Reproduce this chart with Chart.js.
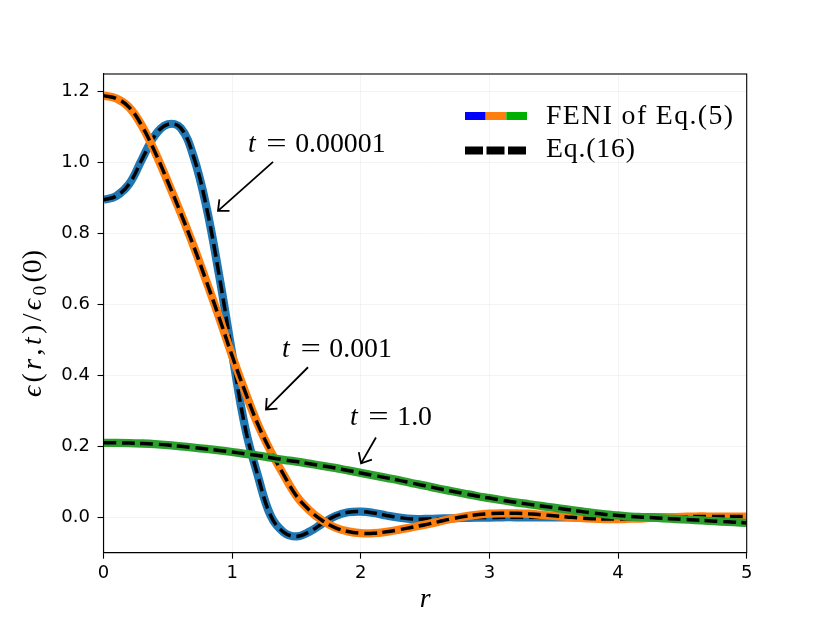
<!DOCTYPE html>
<html><head><meta charset="utf-8">
<script src="https://cdn.jsdelivr.net/npm/chart.js@4/dist/chart.umd.min.js"></script>
<style>html,body{margin:0;padding:0;background:#fff}canvas{display:block}</style>
</head><body>
<canvas id="c" width="830" height="622"></canvas>
<script>
// ---- data ----
const rValues = [0.0,0.1,0.2,0.3,0.4,0.5,0.6,0.7,0.8,0.9,1.0,1.1,1.2,1.3,1.4,1.5,1.6,1.7,1.8,1.9,2.0,2.1,2.2,2.3,2.4,2.5,2.6,2.7,2.8,2.9,3.0,3.1,3.2,3.3,3.4,3.5,3.6,3.7,3.8,3.9,4.0,4.1,4.2,4.3,4.4,4.5,4.6,4.7,4.8,4.9,5.0];
const epsT00001 = [0.895,0.906,0.940,1.010,1.077,1.108,1.098,1.017,0.875,0.680,0.462,0.255,0.117,0.004,-0.042,-0.054,-0.041,-0.018,0.003,0.014,0.016,0.012,0.005,-0.001,-0.005,-0.005,-0.004,-0.003,-0.002,-0.001,-0.001,0.000,0.000,0.000,0.000,0.000,0.000,0.000,0.000,0.000,0.000,0.000,0.000,0.000,0.000,0.000,0.000,0.000,0.000,0.000,0.000];
const epsT0001 = [1.189,1.181,1.156,1.103,1.030,0.946,0.858,0.765,0.665,0.562,0.455,0.355,0.262,0.186,0.120,0.060,0.020,-0.009,-0.029,-0.040,-0.045,-0.045,-0.041,-0.035,-0.028,-0.021,-0.013,-0.005,0.002,0.007,0.010,0.011,0.011,0.010,0.007,0.004,0.001,-0.002,-0.004,-0.005,-0.005,-0.004,-0.003,-0.001,0.000,0.001,0.002,0.002,0.002,0.002,0.002];
const epsT1 = [0.210,0.2098,0.2092,0.208,0.2062,0.2035,0.200,0.1965,0.1925,0.1885,0.184,0.179,0.174,0.168,0.162,0.157,0.151,0.145,0.139,0.132,0.125,0.118,0.111,0.104,0.096,0.089,0.081,0.074,0.067,0.060,0.054,0.048,0.042,0.037,0.032,0.027,0.022,0.017,0.012,0.008,0.005,0.002,0.000,-0.002,-0.004,-0.006,-0.008,-0.010,-0.012,-0.014,-0.016];
const xTickValues = [0,1,2,3,4,5];
const xTickLabels = ['0','1','2','3','4','5'];
const yTickValues = [0,0.2,0.4,0.6,0.8,1.0,1.2];
const yTickLabels = ['0.0','0.2','0.4','0.6','0.8','1.0','1.2'];
const timeLabels = ['0.00001','0.001','1.0'];
const legendLabels = ['FENI of Eq.(5)','Eq.(16)'];

// ---- styles / placement ----
const SERIF = "'Liberation Serif','DejaVu Serif',serif";
const lineColors = ['#1f77b4','#ff7f0e','#2ca02c'];
const legendColors = ['#0000ff','#ff7f0e','#00b000'];
const annotPlacement = [
  {text:[1.123,1.030], tail:[1.318,1.002], tip:[0.890,0.864]},
  {text:[1.388,0.451], tail:[1.590,0.423], tip:[1.263,0.304]},
  {text:[1.916,0.259], tail:[2.118,0.225], tip:[2.002,0.152]}
];
const legendTextWidths = [187, 89];
const seriesList = [epsT00001, epsT0001, epsT1];

const datasets = [];
seriesList.forEach((s, i) => {
  const pts = rValues.map((r, k) => ({x: r, y: s[k]}));
  datasets.push({data: pts, borderColor: lineColors[i], borderWidth: 8.3, pointRadius: 0, tension: 0.4, clip: 0, borderCapStyle: 'butt', order: 10 - 2*i});
  datasets.push({data: pts, borderColor: '#000', borderWidth: 3.5, borderDash: [12.8, 5.6], pointRadius: 0, tension: 0.4, clip: 0, borderCapStyle: 'butt', order: 9 - 2*i});
});

function drawArrow(ctx, x1, y1, x2, y2) {
  const ang = Math.atan2(y2 - y1, x2 - x1), L = 11.5, a = 0.72;
  ctx.beginPath();
  ctx.moveTo(x1, y1); ctx.lineTo(x2, y2);
  ctx.moveTo(x2 - L*Math.cos(ang - a), y2 - L*Math.sin(ang - a));
  ctx.lineTo(x2, y2);
  ctx.lineTo(x2 - L*Math.cos(ang + a), y2 - L*Math.sin(ang + a));
  ctx.stroke();
}

function fitText(ctx, txt, x, y, target) {
  ctx.letterSpacing = '0px';
  const w = ctx.measureText(txt).width;
  const sp = Math.max(0, (target - w) / Math.max(1, txt.length - 1));
  ctx.letterSpacing = sp.toFixed(2) + 'px';
  ctx.fillText(txt, x, y);
  ctx.letterSpacing = '0px';
}

const extras = {
  id: 'extras',
  afterDatasetsDraw(chart) {
    const ctx = chart.ctx, xs = chart.scales.x, ys = chart.scales.y, ca = chart.chartArea;
    ctx.save();
    // frame (spines)
    ctx.strokeStyle = '#000'; ctx.lineWidth = 1.1;
    ctx.strokeRect(ca.left, ca.top, ca.right - ca.left, ca.bottom - ca.top);
    // annotations
    const fs = 27.8;
    ctx.fillStyle = '#000'; ctx.strokeStyle = '#000'; ctx.lineWidth = 1.8; ctx.lineJoin = 'miter'; ctx.lineCap = 'butt';
    annotPlacement.forEach((a, i) => {
      const x0 = xs.getPixelForValue(a.text[0]), y0 = ys.getPixelForValue(a.text[1]);
      ctx.textBaseline = 'alphabetic';
      ctx.textAlign = 'left';
      ctx.font = 'italic ' + fs + 'px ' + SERIF;
      ctx.fillText('t', x0, y0);
      ctx.font = fs + 'px ' + SERIF;
      ctx.textAlign = 'center';
      ctx.save(); ctx.translate(x0 + 1.028*fs, 0); ctx.scale(1.3, 1); ctx.fillText('=', 0, y0); ctx.restore();
      ctx.textAlign = 'left';
      ctx.fillText(timeLabels[i], x0 + 1.70*fs, y0);
      drawArrow(ctx, xs.getPixelForValue(a.tail[0]), ys.getPixelForValue(a.tail[1]), xs.getPixelForValue(a.tip[0]), ys.getPixelForValue(a.tip[1]));
    });
    // legend
    const hx = 465, hw = 62;
    ctx.lineWidth = 8; ctx.lineCap = 'butt';
    legendColors.forEach((c, i) => {
      ctx.strokeStyle = c; ctx.beginPath();
      ctx.moveTo(hx + i*hw/3, 116); ctx.lineTo(hx + (i+1)*hw/3, 116); ctx.stroke();
    });
    ctx.strokeStyle = '#000'; ctx.setLineDash([18, 3.5]);
    ctx.beginPath(); ctx.moveTo(hx, 150.5); ctx.lineTo(hx + hw, 150.5); ctx.stroke();
    ctx.setLineDash([]);
    ctx.font = fs + 'px ' + SERIF; ctx.textAlign = 'left'; ctx.fillStyle = '#000';
    fitText(ctx, legendLabels[0], 546, 123.5, legendTextWidths[0]);
    fitText(ctx, legendLabels[1], 546, 156.5, legendTextWidths[1]);
    // x label
    ctx.font = 'italic ' + fs + 'px ' + SERIF; ctx.textAlign = 'center';
    ctx.fillText('r', (ca.left + ca.right)/2, 607);
    // y label (rotated, mixed styles)
    const parts = [['ϵ','i'],['(','n'],['r','i'],[',','n'],['t','i'],[')','n'],['/','n'],['ϵ','i'],['0','s'],['(0)','n']];
    const fontFor = p => p === 'i' ? 'italic ' + fs + 'px ' + SERIF : p === 's' ? (fs*0.7) + 'px ' + SERIF : fs + 'px ' + SERIF;
    let W = 0;
    parts.forEach(p => { ctx.font = fontFor(p[1]); W += ctx.measureText(p[0]).width; });
    const gap = (147 - W) / (parts.length - 1);
    ctx.translate(41, 323.5); ctx.rotate(-Math.PI/2);
    let cx = -147/2; ctx.textAlign = 'left';
    parts.forEach(p => {
      ctx.font = fontFor(p[1]);
      ctx.fillText(p[0], cx, p[1] === 's' ? 5 : 0);
      cx += ctx.measureText(p[0]).width + gap;
    });
    ctx.restore();
  }
};

new Chart(document.getElementById('c'), {
  type: 'line',
  data: {datasets},
  options: {
    responsive: false, animation: false, devicePixelRatio: 1,
    layout: {padding: {top: 74, right: 83.3, left: 0, bottom: 0}},
    plugins: {legend: {display: false}, tooltip: {enabled: false}},
    scales: {
      x: {
        type: 'linear', min: 0, max: 5,
        afterBuildTicks: s => { s.ticks = xTickValues.map(v => ({value: v})); },
        afterFit: s => { s.height = 69.3; },
        ticks: {callback: (v) => xTickLabels[xTickValues.indexOf(v)], color: '#000', font: {family: 'DejaVu Sans', size: 18}, padding: 3.5, maxRotation: 0},
        grid: {color: 'rgba(0,0,0,0.06)', lineWidth: 0.8, tickColor: '#000', tickLength: 6, tickWidth: 1.1},
        border: {color: '#000', width: 1.1}
      },
      y: {
        type: 'linear', min: -0.1, max: 1.25,
        afterBuildTicks: s => { s.ticks = yTickValues.map(v => ({value: v})); },
        afterFit: s => { s.width = 103.5; },
        ticks: {callback: (v) => yTickLabels[yTickValues.indexOf(v)], color: '#000', font: {family: 'DejaVu Sans', size: 18}, padding: 7.5},
        grid: {color: 'rgba(0,0,0,0.06)', lineWidth: 0.8, tickColor: '#000', tickLength: 6, tickWidth: 1.1},
        border: {color: '#000', width: 1.1}
      }
    }
  },
  plugins: [extras]
});
</script>
</body></html>
